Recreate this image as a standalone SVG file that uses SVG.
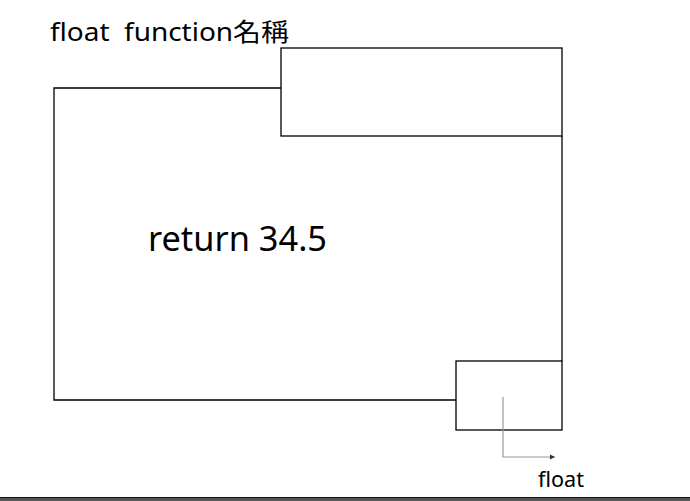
<svg xmlns="http://www.w3.org/2000/svg" width="690" height="501" viewBox="0 0 690 501">
<style>
.t{font-family:"Noto Sans","Noto Sans CJK TC",sans-serif;fill:#000}
.b{fill:none;stroke:#000;stroke-width:1.3}
</style>
<defs>
<marker id="ah" markerWidth="6" markerHeight="6" refX="5" refY="3" orient="auto" markerUnits="userSpaceOnUse">
<path d="M0,0.5 L5,3 L0,5.5 Z" fill="#333"/>
</marker>
</defs>
<rect width="690" height="501" fill="#fff"/>
<g id="title"><text class="t" x="50" y="41" font-size="25" xml:space="preserve" textLength="239" lengthAdjust="spacingAndGlyphs">float  function名稱</text></g>
<g id="body">
<polyline class="b" points="281,88 54,88 54,400 456,400" stroke="#555"/>
<line class="b" x1="562" y1="136" x2="562" y2="361"/>
<text class="t" x="148" y="251" font-size="34" textLength="179" lengthAdjust="spacingAndGlyphs">return 34.5</text>
</g>
<g id="param"><rect class="b" x="281" y="48" width="281" height="88"/></g>
<g id="ret"><rect class="b" x="456" y="361" width="106" height="69"/></g>
<g id="connectors">
<polyline points="503,397 503,457 555,457" fill="none" stroke="#999" stroke-width="1.2" marker-end="url(#ah)"/>
</g>
<g id="retlabel"><text class="t" x="538" y="487" font-size="21" textLength="46" lengthAdjust="spacingAndGlyphs">float</text></g>
<rect x="0" y="497" width="690" height="4" fill="#555"/>
<line x1="0" y1="497.5" x2="690" y2="497.5" stroke="#111" stroke-width="1"/>
</svg>
